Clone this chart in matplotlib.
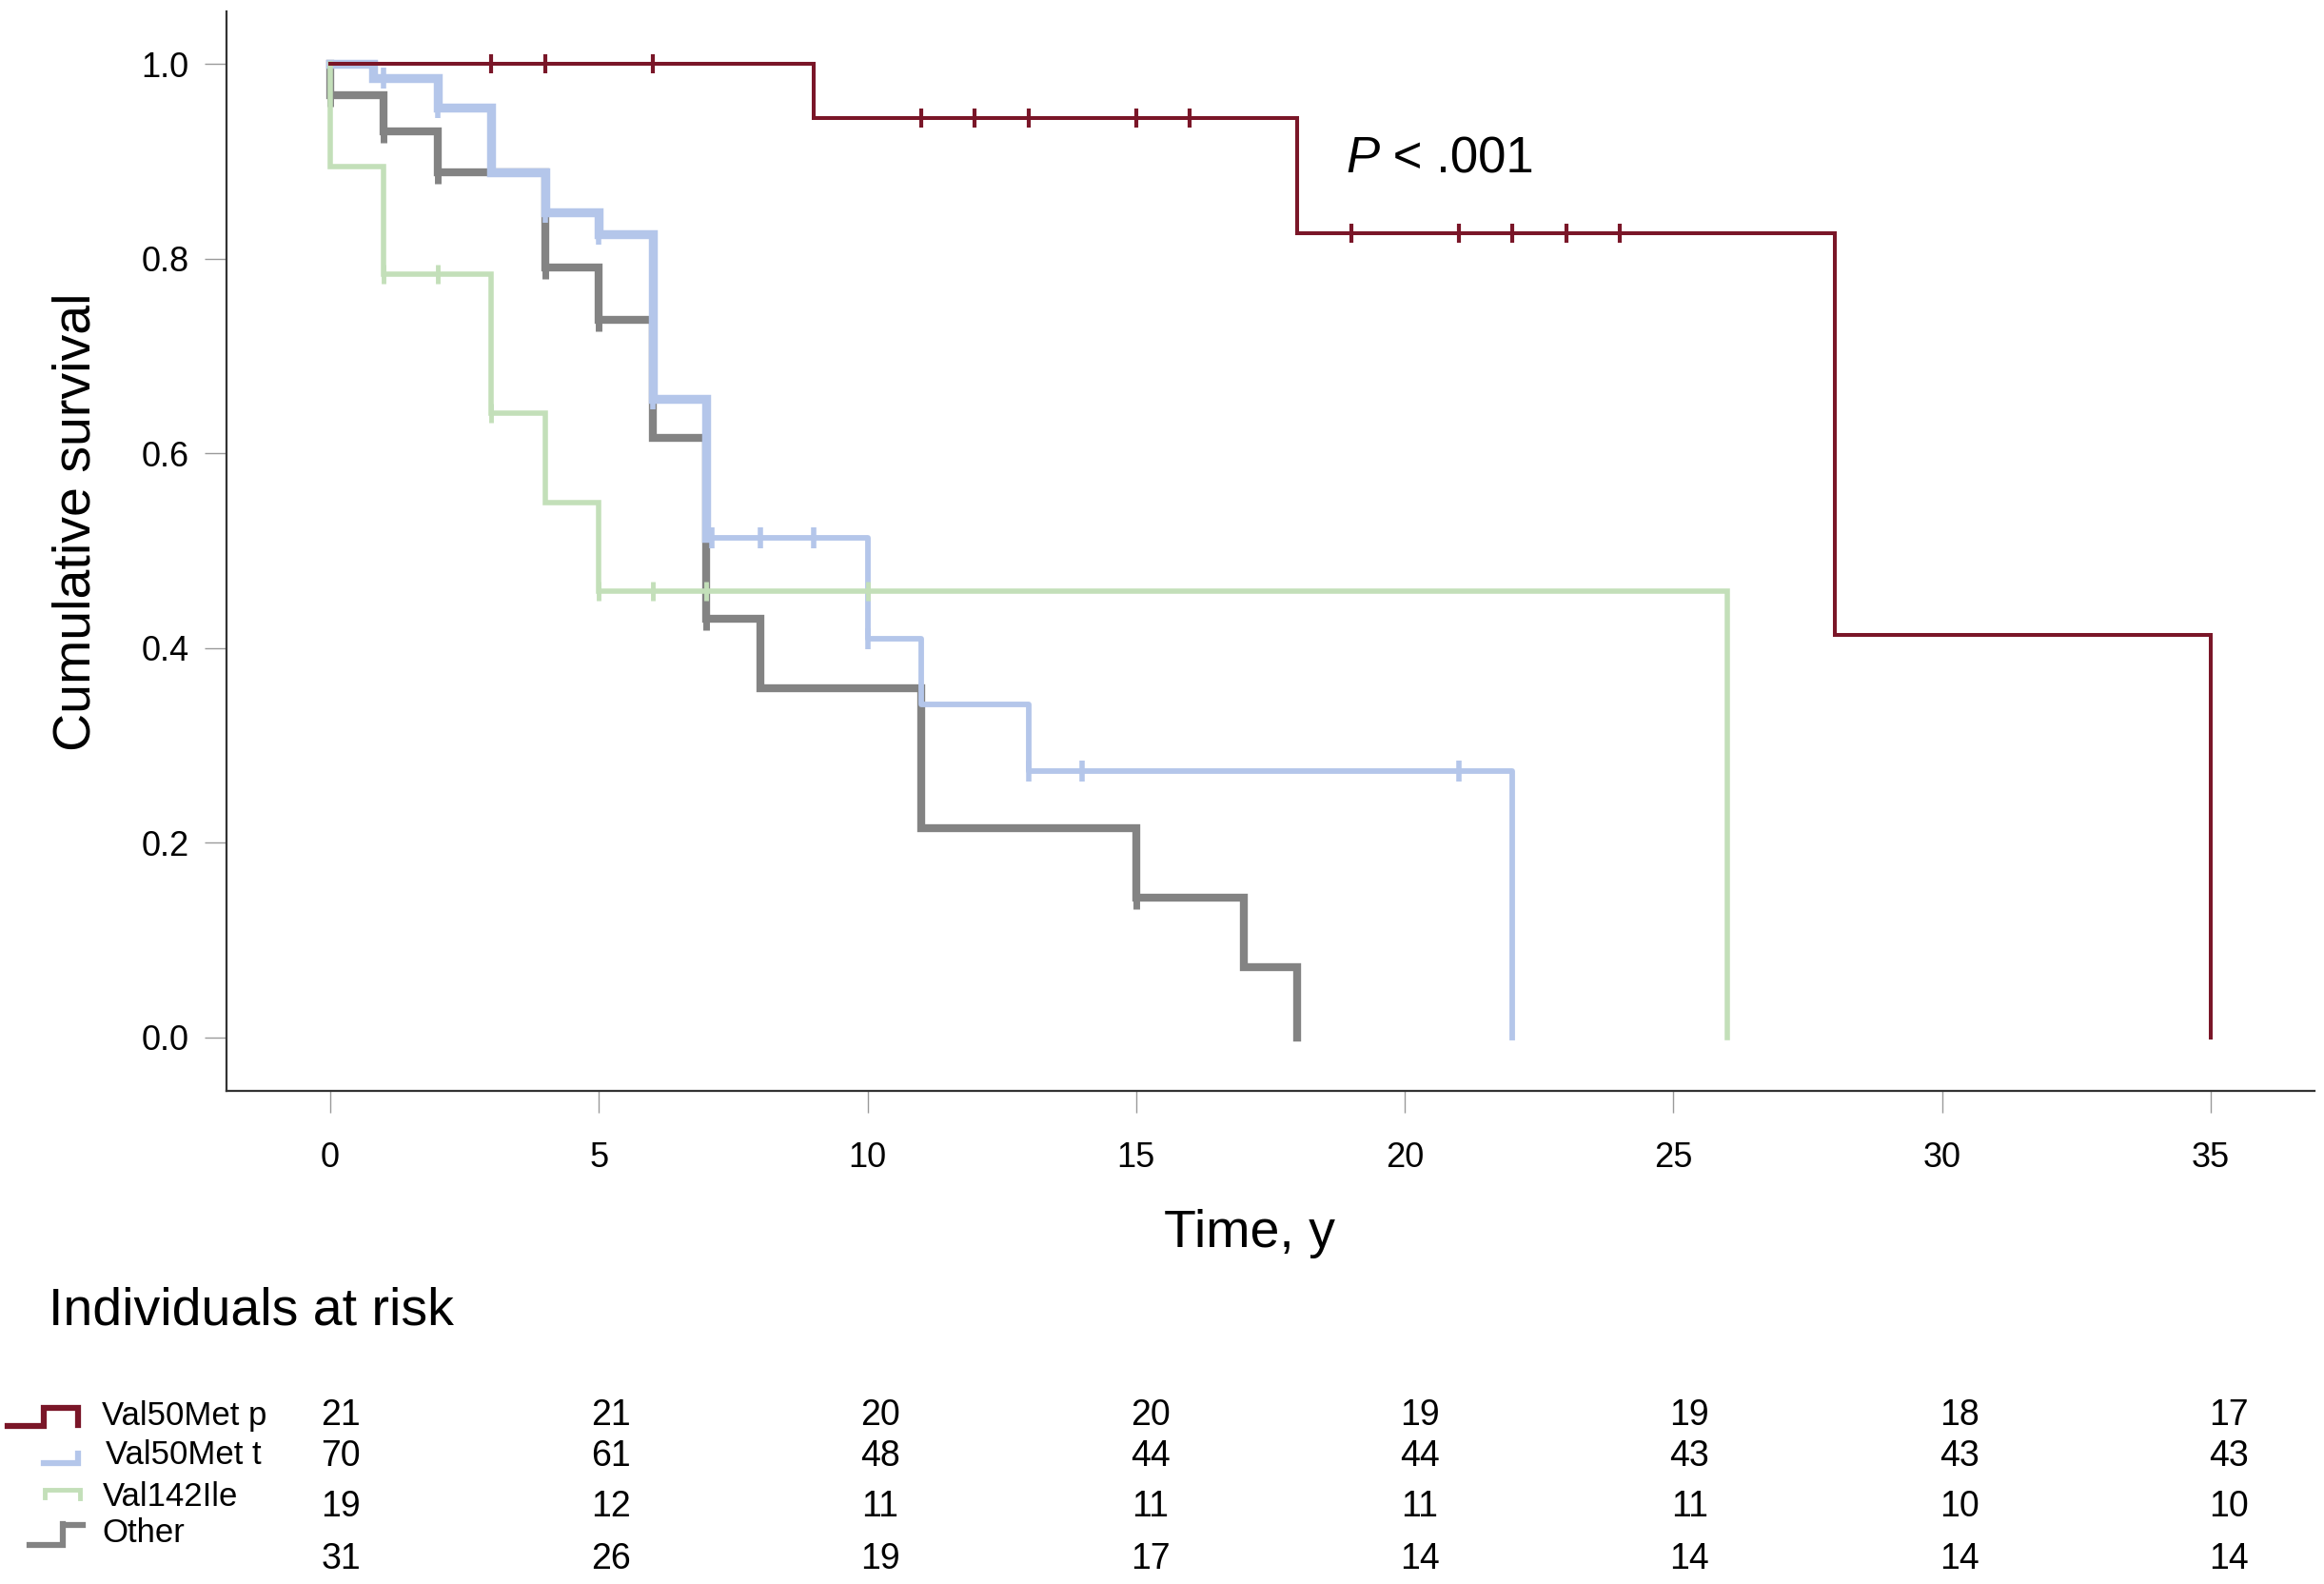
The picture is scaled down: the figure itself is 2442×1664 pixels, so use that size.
import numpy as np
import matplotlib.pyplot as plt
from matplotlib.lines import Line2D
import matplotlib.transforms as mtransforms

plt.rcParams['font.family'] = ['Liberation Sans', 'DejaVu Sans']
NARROW = ['Liberation Sans Narrow', 'Liberation Sans', 'DejaVu Sans']

# Kaplan-Meier curves (event times, survival after each time)
groups = ['Val50Met p', 'Val50Met t', 'Val142Ile', 'Other']

t_p = [0, 9, 18, 28, 35]
s_p = [1.0, 0.944, 0.826, 0.413, 0.0]
c_p = [3, 4, 6, 11, 12, 13, 15, 16, 19, 21, 22, 23, 24]

t_t = [0, 0.8, 2, 3, 4, 5, 6, 7, 10, 11, 13, 22]
s_t = [1.0, 0.986, 0.955, 0.889, 0.848, 0.825, 0.656, 0.513, 0.410, 0.342, 0.274, 0.0]
c_t = [1, 2, 4, 5, 6, 7.1, 8, 9, 10, 13, 14, 21]

t_v = [0, 0, 1, 3, 4, 5, 26]
s_v = [1.0, 0.895, 0.784, 0.641, 0.549, 0.458, 0.0]
c_v = [1, 2, 3, 5, 6, 7, 10]

t_o = [0, 0, 1, 2, 4, 5, 6, 7, 8, 11, 15, 17, 18]
s_o = [1.0, 0.968, 0.931, 0.889, 0.791, 0.737, 0.616, 0.430, 0.359, 0.215, 0.144, 0.072, 0.0]
c_o = [0, 1, 2, 4, 5, 7, 15]

# individuals at risk
risk_times = [0, 5, 10, 15, 20, 25, 30, 35]
risk_p = [21, 21, 20, 20, 19, 19, 18, 17]
risk_t = [70, 61, 48, 44, 44, 43, 43, 43]
risk_v = [19, 12, 11, 11, 11, 11, 10, 10]
risk_o = [31, 26, 19, 17, 14, 14, 14, 14]

col_p = '#7a1628'
col_t = '#b4c6ea'
col_v = '#c3dfb9'
col_o = '#838383'

W, H = 2442, 1664
fig = plt.figure(figsize=(W / 100, H / 100), dpi=100)
ax = fig.add_axes([238 / W, 1 - 1146 / H, (2432 - 238) / W, (1146 - 12) / H])


def surv_at(times, surv, c):
    idx = np.searchsorted(times, c, side='right') - 1
    return np.array(surv)[idx]


def km(times, surv, cens, color, lw, ms, mew, z, split=None):
    times = np.array(times, dtype=float)
    surv = np.array(surv)
    if split is None:
        ax.step(times, surv, where='post', color=color, lw=lw, zorder=z,
                solid_joinstyle='miter')
    else:
        # early part of the curve drawn thicker
        ax.step(times[:split + 1], surv[:split + 1], where='post', color=color,
                lw=lw[0], zorder=z, solid_joinstyle='miter')
        ax.step(times[split:], surv[split:], where='post', color=color,
                lw=lw[1], zorder=z)
    ax.plot(cens, surv_at(times, surv, cens), ls='none', marker='|',
            ms=ms, mew=mew, color=color, zorder=z + 0.5)


km(t_o, s_o, c_o, col_o, 6.0, 17, 5, 2)
km(t_t, s_t, c_t, col_t, (6.8, 4.2), 16, 4, 3, split=7)
km(t_v, s_v, c_v, col_v, 4.0, 15, 3.5, 4)
km(t_p, s_p, c_p, col_p, 2.9, 15, 3, 5)

ax.set_xlim(-1.93, 36.93)
ax.set_ylim(-0.055, 1.054)
ax.set_xticks(risk_times)
ax.set_yticks([0, 0.2, 0.4, 0.6, 0.8, 1.0])
ax.set_yticklabels(['%.1f' % v for v in ax.get_yticks()])
for s in ['top', 'right']:
    ax.spines[s].set_visible(False)
for s in ['left', 'bottom']:
    ax.spines[s].set_color('#333333')
    ax.spines[s].set_linewidth(1.6)
ax.tick_params(axis='both', direction='out', length=16.5, width=1.0,
               color='#9a9a9a', labelsize=26)
ax.tick_params(axis='y', pad=12)
ax.tick_params(axis='x', pad=22)
for lab in ax.get_xticklabels() + ax.get_yticklabels():
    lab.set_family(NARROW)

# p-value
ptxt = ax.text(18.9, 0.902, 'P', fontsize=38, style='italic', va='center',
               ha='left', family=NARROW)
ax.annotate(' < .001', xy=(1, 0), xycoords=ptxt, va='bottom', ha='left',
            fontsize=38, family=NARROW)

fig.text(81 / W, 1 - 548 / H, 'Cumulative survival', rotation=90,
         fontsize=40, ha='center', va='center')
fig.text(1313 / W, 1 - 1296 / H, 'Time, y', fontsize=40, ha='center',
         va='center')
fig.text(51 / W, 1 - 1378 / H, 'Individuals at risk', fontsize=40,
         ha='left', va='center')

# risk table
trans = mtransforms.blended_transform_factory(ax.transData, fig.transFigure)
row_y = [1487, 1530, 1583, 1638]
for risk, py in zip([risk_p, risk_t, risk_v, risk_o], row_y):
    for t, n in zip(risk_times, risk):
        fig.text(t + 0.2 + t * 0.004, 1 - py / H, str(n), transform=trans,
                 fontsize=27, ha='center', va='center', family=NARROW)

label_pos = [(107, 1488), (111, 1528), (108, 1573), (107, 1610)]
for g, (px, py) in zip(groups, label_pos):
    fig.text(px / W, 1 - py / H, g, fontsize=25, ha='left', va='center')

icons = [
    ([8, 46, 46, 82, 82], [1498, 1498, 1479, 1479, 1497], col_p, 4.5),
    ([46, 82, 82], [1537, 1537, 1527], col_t, 4.5),
    ([47, 47, 84, 84], [1573, 1565, 1565, 1574], col_v, 3.5),
    ([31, 66, 66], [1623, 1623, 1601], col_o, 4.5),
    ([69, 87], [1602, 1602], col_o, 4.5),
]
for xs, ys, c, lw in icons:
    fig.add_artist(Line2D(np.array(xs) / W, 1 - np.array(ys) / H, color=c,
                          lw=lw, solid_joinstyle='miter'))

fig.savefig('out.png', dpi=100, facecolor='white')
